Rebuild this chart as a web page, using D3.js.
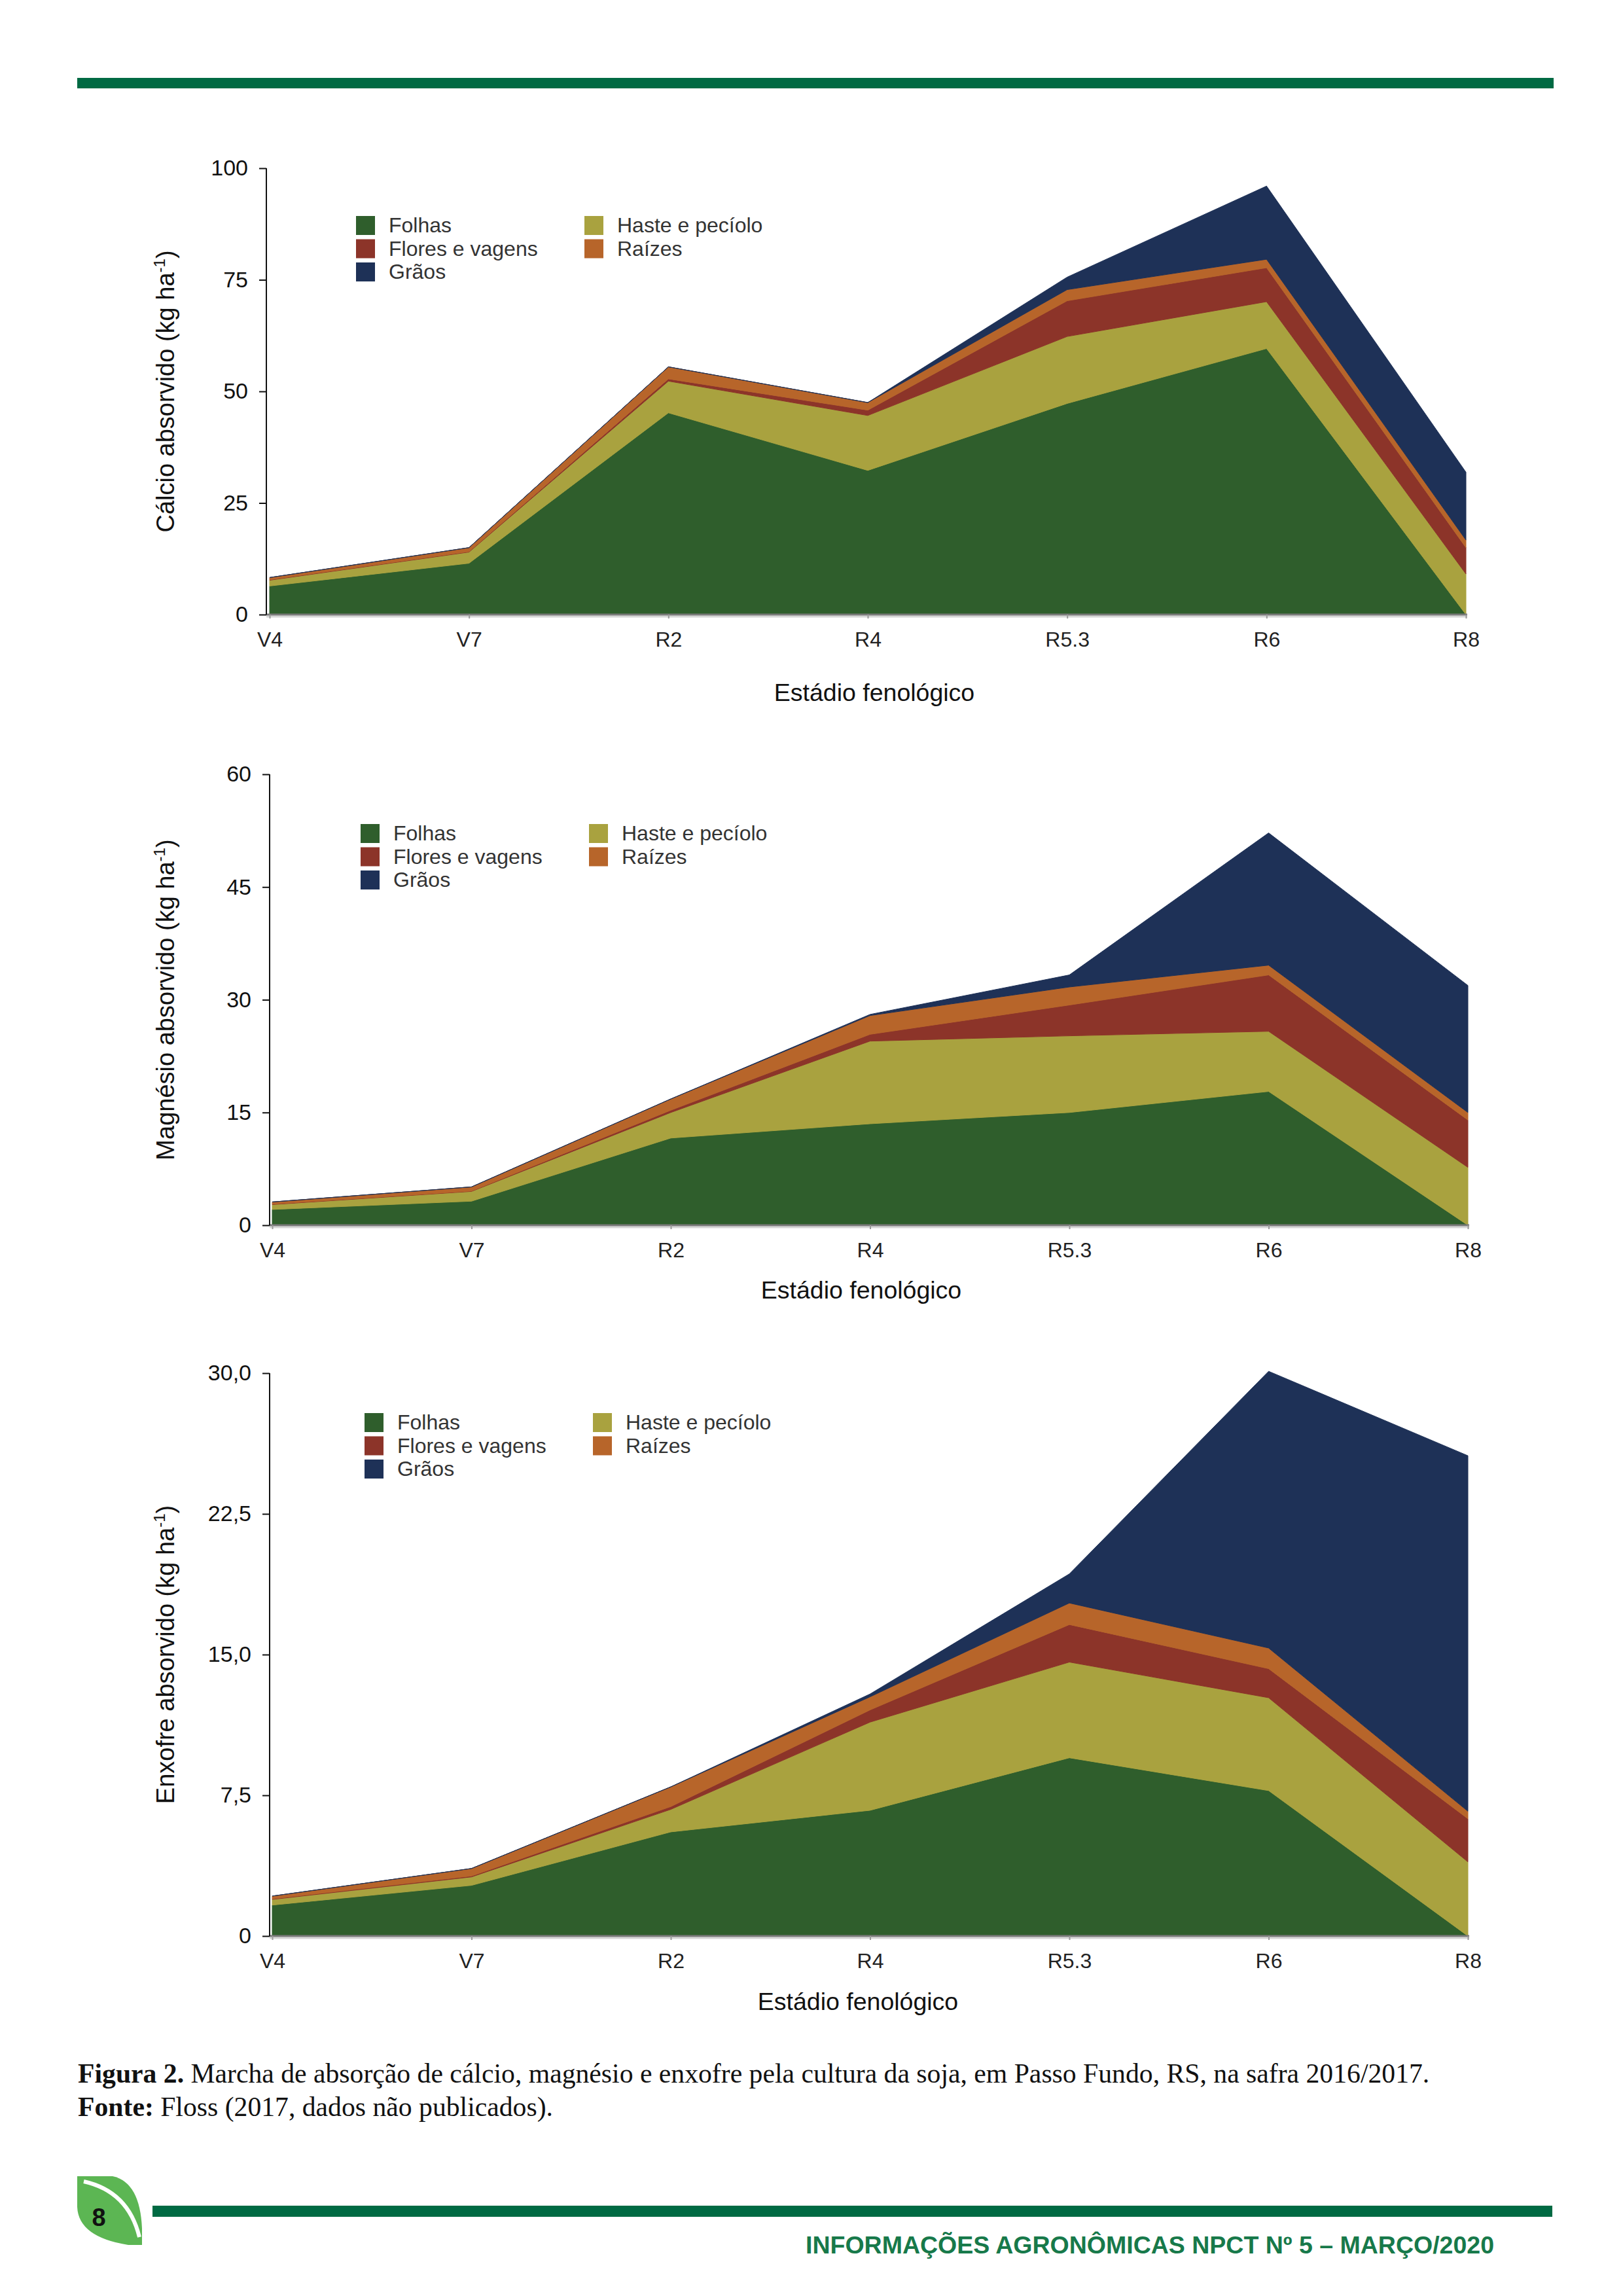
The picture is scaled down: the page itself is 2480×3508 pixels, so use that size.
<!DOCTYPE html>
<html>
<head>
<meta charset="utf-8">
<script src="https://cdn.jsdelivr.net/npm/d3@7"></script>
<style>
  html, body { margin: 0; padding: 0; background: #ffffff; }
  svg { display: block; }
</style>
</head>
<body>
<script>
// ---------------- DATA ----------------
const stages = ["V4", "V7", "R2", "R4", "R5.3", "R6", "R8"];
const seriesKeys = ["Folhas", "Haste e pecíolo", "Flores e vagens", "Raízes", "Grãos"];
const legendCol1 = ["Folhas", "Flores e vagens", "Grãos"];
const legendCol2 = ["Haste e pecíolo", "Raízes"];

// Cálcio (kg/ha)
const calcioFolhas = [6.4, 11.5, 45.2, 32.3, 47.3, 59.6, 0];
const calcioHaste  = [1.3, 2.5, 7.1, 12.3, 15.0, 10.5, 9.1];
const calcioFlores = [0.1, 0.1, 0.5, 1.2, 8.0, 7.6, 5.9];
const calcioRaizes = [0.5, 0.9, 2.7, 1.7, 2.5, 1.9, 1.7];
const calcioGraos  = [0, 0, 0, 0, 2.8, 16.4, 15.2];
const calcioTicks = [0, 25, 50, 75, 100];
const calcioTickLabels = ["0", "25", "50", "75", "100"];

// Magnésio (kg/ha)
const magnesioFolhas = [2.1, 3.2, 11.6, 13.5, 15.0, 17.8, 0];
const magnesioHaste  = [0.65, 1.3, 3.4, 11.0, 10.2, 8.0, 7.7];
const magnesioFlores = [0.05, 0.05, 0.3, 0.9, 4.1, 7.5, 6.3];
const magnesioRaizes = [0.3, 0.55, 1.5, 2.5, 2.4, 1.3, 1.0];
const magnesioGraos  = [0, 0, 0, 0.15, 1.6, 17.6, 16.9];
const magnesioTicks = [0, 15, 30, 45, 60];
const magnesioTickLabels = ["0", "15", "30", "45", "60"];

// Enxofre (kg/ha)
const enxofreFolhas = [1.65, 2.7, 5.55, 6.7, 9.5, 7.75, 0];
const enxofreHaste  = [0.3, 0.45, 1.2, 4.7, 5.1, 4.95, 3.95];
const enxofreFlores = [0.03, 0.05, 0.15, 0.65, 2.0, 1.55, 2.3];
const enxofreRaizes = [0.15, 0.4, 1.05, 0.7, 1.15, 1.1, 0.4];
const enxofreGraos  = [0, 0, 0, 0.15, 1.55, 14.75, 18.95];
const enxofreTicks = [0, 7.5, 15, 22.5, 30];
const enxofreTickLabels = ["0", "7,5", "15,0", "22,5", "30,0"];

// ---------------- STYLE ----------------
const colors = {
  "Folhas": "#2f5e2c",
  "Haste e pecíolo": "#a9a23f",
  "Flores e vagens": "#8c3429",
  "Raízes": "#b7652a",
  "Grãos": "#1e3157"
};
const SANS = "'Liberation Sans', Arial, Helvetica, sans-serif";
const SERIF = "'Liberation Serif', 'Times New Roman', serif";

const W = 2480, H = 3508;
const svg = d3.select("body").append("svg")
  .attr("width", W).attr("height", H)
  .attr("viewBox", `0 0 ${W} ${H}`);
svg.append("rect").attr("width", W).attr("height", H).attr("fill", "#ffffff");

// header bar
svg.append("rect").attr("x", 118).attr("y", 119).attr("width", 2256).attr("height", 16).attr("fill", "#006a43");

function buildRows(f, h, fl, r, g) {
  return stages.map((s, i) => ({
    stage: s,
    "Folhas": f[i], "Haste e pecíolo": h[i], "Flores e vagens": fl[i], "Raízes": r[i], "Grãos": g[i]
  }));
}

function drawChart(cfg) {
  const g = svg.append("g");
  const x = d3.scalePoint().domain(stages).range([cfg.x0, cfg.x1]);
  const y = d3.scaleLinear().domain([0, cfg.max]).range([cfg.yBot, cfg.yTop]);
  const stacked = d3.stack().keys(seriesKeys)(cfg.rows);
  const area = d3.area()
    .x(d => x(d.data.stage))
    .y0(d => y(d[0]))
    .y1(d => y(d[1]))
    .curve(d3.curveLinear);

  g.selectAll("path.layer").data(stacked).join("path")
    .attr("class", "layer")
    .attr("d", area)
    .attr("fill", d => colors[d.key])
    .attr("stroke", d => colors[d.key])
    .attr("stroke-width", 1);

  // x axis
  g.append("line")
    .attr("x1", cfg.axisX).attr("x2", cfg.x1 + 2)
    .attr("y1", cfg.yBot + 3).attr("y2", cfg.yBot + 3)
    .attr("stroke", "#d6d6d6").attr("stroke-width", 3);
  const xAxis = g.append("g").attr("transform", `translate(0,${cfg.yBot})`)
    .call(d3.axisBottom(x).tickSize(6).tickSizeOuter(0).tickPadding(20));
  xAxis.select(".domain").attr("stroke", "#7a7a7a").attr("stroke-width", 3)
    .attr("d", `M${cfg.axisX},0H${cfg.x1 + 2}`);
  xAxis.selectAll(".tick line").attr("stroke", "#9a9a9a").attr("stroke-width", 2);
  xAxis.selectAll(".tick text")
    .attr("font-family", SANS).attr("font-size", 32).attr("fill", "#222");

  // y axis
  const yAxis = g.append("g").attr("transform", `translate(${cfg.axisX},0)`)
    .call(d3.axisLeft(y).tickValues(cfg.ticks)
      .tickFormat((d, i) => cfg.tickLabels[i])
      .tickSize(11).tickSizeOuter(0).tickPadding(17));
  yAxis.select(".domain").attr("stroke", "#111").attr("stroke-width", 2)
    .attr("d", `M0,${cfg.yTop}V${cfg.yBot}`);
  yAxis.selectAll(".tick line").attr("stroke", "#111").attr("stroke-width", 2);
  yAxis.selectAll(".tick text")
    .attr("font-family", SANS).attr("font-size", 34).attr("fill", "#111");

  // y title
  const yt = g.append("text")
    .attr("transform", `translate(${cfg.yTitleX},${(cfg.yTop + cfg.yBot) / 2}) rotate(-90)`)
    .attr("text-anchor", "middle")
    .attr("font-family", SANS).attr("font-size", 38).attr("fill", "#111");
  yt.append("tspan").text(cfg.yTitle + " (kg ha");
  yt.append("tspan").attr("dy", -14).attr("font-size", 24).text("-1");
  yt.append("tspan").attr("dy", 14).text(")");

  // x title
  g.append("text")
    .attr("x", cfg.xTitleX).attr("y", cfg.xTitleY)
    .attr("text-anchor", "middle")
    .attr("font-family", SANS).attr("font-size", 37.5).attr("fill", "#111")
    .text("Estádio fenológico");

  // legend
  const rowH = 35.5;
  function legendCol(keys, lx) {
    keys.forEach((k, i) => {
      const cy = cfg.legendY + i * rowH;
      g.append("rect").attr("x", lx).attr("y", cy - 14).attr("width", 29).attr("height", 29)
        .attr("fill", colors[k]);
      g.append("text").attr("x", lx + 50).attr("y", cy + 11)
        .attr("font-family", SANS).attr("font-size", 32).attr("fill", "#333")
        .text(k);
    });
  }
  legendCol(legendCol1, cfg.legendX);
  legendCol(legendCol2, cfg.col2X);
}

drawChart({
  rows: buildRows(calcioFolhas, calcioHaste, calcioFlores, calcioRaizes, calcioGraos),
  max: 100, ticks: calcioTicks, tickLabels: calcioTickLabels,
  x0: 412, x1: 2240, axisX: 407, yTop: 257, yBot: 939,
  yTitle: "Cálcio absorvido", yTitleX: 266,
  xTitleX: 1336, xTitleY: 1071,
  legendX: 544, legendY: 344, col2X: 893
});

drawChart({
  rows: buildRows(magnesioFolhas, magnesioHaste, magnesioFlores, magnesioRaizes, magnesioGraos),
  max: 60, ticks: magnesioTicks, tickLabels: magnesioTickLabels,
  x0: 416, x1: 2243, axisX: 412, yTop: 1183, yBot: 1872,
  yTitle: "Magnésio absorvido", yTitleX: 266,
  xTitleX: 1316, xTitleY: 1984,
  legendX: 551, legendY: 1273, col2X: 900
});

drawChart({
  rows: buildRows(enxofreFolhas, enxofreHaste, enxofreFlores, enxofreRaizes, enxofreGraos),
  max: 30, ticks: enxofreTicks, tickLabels: enxofreTickLabels,
  x0: 416, x1: 2243, axisX: 412, yTop: 2098, yBot: 2958,
  yTitle: "Enxofre absorvido", yTitleX: 266,
  xTitleX: 1311, xTitleY: 3071,
  legendX: 557, legendY: 2173, col2X: 906
});

// caption
const cap1 = svg.append("text").attr("x", 119).attr("y", 3182)
  .attr("font-family", SERIF).attr("font-size", 41.7).attr("fill", "#111");
cap1.append("tspan").attr("font-weight", "bold").text("Figura 2.");
cap1.append("tspan").text(" Marcha de absorção de cálcio, magnésio e enxofre pela cultura da soja, em Passo Fundo, RS, na safra 2016/2017.");
const cap2 = svg.append("text").attr("x", 119).attr("y", 3233)
  .attr("font-family", SERIF).attr("font-size", 41.7).attr("fill", "#111");
cap2.append("tspan").attr("font-weight", "bold").text("Fonte:");
cap2.append("tspan").text(" Floss (2017, dados não publicados).");

// footer
svg.append("path")
  .attr("d", "M118,3325 L172,3325 Q214,3334 217,3405 L217,3430 L196,3430 Q120,3418 118,3372 Z")
  .attr("fill", "#5cb653");
svg.append("path")
  .attr("d", "M128,3333 Q196,3348 213,3418")
  .attr("fill", "none").attr("stroke", "#ffffff").attr("stroke-width", 6);
svg.append("text").attr("x", 151).attr("y", 3401).attr("text-anchor", "middle")
  .attr("font-family", SANS).attr("font-weight", "bold").attr("font-size", 38).attr("fill", "#111")
  .text("8");
svg.append("rect").attr("x", 233).attr("y", 3370).attr("width", 2139).attr("height", 17).attr("fill", "#006a43");
svg.append("text").attr("x", 2283).attr("y", 3443).attr("text-anchor", "end")
  .attr("font-family", SANS).attr("font-weight", "bold").attr("font-size", 37.5).attr("fill", "#17794a")
  .text("INFORMAÇÕES AGRONÔMICAS NPCT Nº 5 – MARÇO/2020");
</script>
</body>
</html>
